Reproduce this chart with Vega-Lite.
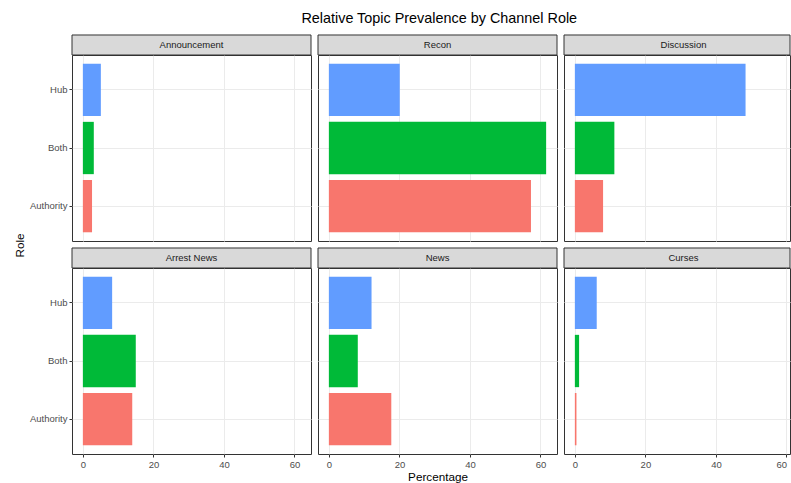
{
  "$schema": "https://vega.github.io/schema/vega-lite/v6.json",
  "background": "white",
  "padding": {"left": 13, "top": 10, "right": 0, "bottom": 0},
  "title": {"text": "Relative Topic Prevalence by Channel Role", "fontSize": 14.4, "fontWeight": "normal", "color": "#000000", "font": "Liberation Sans", "anchor": "middle", "dx": 37, "offset": 8},
  "datasets": {
    "d": [
      {"Topic": "Announcement", "Role": "Hub", "Percentage": 5.1},
      {"Topic": "Announcement", "Role": "Both", "Percentage": 3.1},
      {"Topic": "Announcement", "Role": "Authority", "Percentage": 2.6},
      {"Topic": "Recon", "Role": "Hub", "Percentage": 20.1},
      {"Topic": "Recon", "Role": "Both", "Percentage": 61.6},
      {"Topic": "Recon", "Role": "Authority", "Percentage": 57.3},
      {"Topic": "Discussion", "Role": "Hub", "Percentage": 48.4},
      {"Topic": "Discussion", "Role": "Both", "Percentage": 11.2},
      {"Topic": "Discussion", "Role": "Authority", "Percentage": 8.0},
      {"Topic": "Arrest News", "Role": "Hub", "Percentage": 8.3},
      {"Topic": "Arrest News", "Role": "Both", "Percentage": 15.0},
      {"Topic": "Arrest News", "Role": "Authority", "Percentage": 14.0},
      {"Topic": "News", "Role": "Hub", "Percentage": 12.1},
      {"Topic": "News", "Role": "Both", "Percentage": 8.2},
      {"Topic": "News", "Role": "Authority", "Percentage": 17.7},
      {"Topic": "Curses", "Role": "Hub", "Percentage": 6.2},
      {"Topic": "Curses", "Role": "Both", "Percentage": 1.2},
      {"Topic": "Curses", "Role": "Authority", "Percentage": 0.45}
    ]
  },
  "columns": 3,
  "spacing": {"row": 27, "column": 7},
  "bounds": "flush",
  "align": "each",
  "concat": [
    {
      "width": 239, "height": 186,
      "data": {"name": "d"},
      "transform": [{"filter": "datum.Topic === 'Announcement'"}],
      "layer": [
        {
          "mark": {"type": "bar", "orient": "horizontal"},
          "encoding": {
            "y": {"field": "Role", "type": "nominal", "sort": ["Hub", "Both", "Authority"], "scale": {"paddingInner": 0.1, "paddingOuter": 0.15},
              "axis": {"title": "Role", "titleX": -49, "titleY": 190, "titleAngle": -90, "titleAlign": "center", "titleBaseline": "alphabetic", "titleFontSize": 11.7, "titleFontWeight": "normal", "titleColor": "#000000", "titleFont": "Liberation Sans", "domain": false, "ticks": true, "tickSize": 3, "tickColor": "#333333", "labelPadding": 2, "grid": true, "bandPosition": 0.5}},
            "x": {"field": "Percentage", "type": "quantitative", "scale": {"domain": [-3.08, 64.68], "nice": false, "zero": true},
              "axis": {"title": null, "domain": false, "ticks": false, "labels": false, "grid": true, "values": [0, 10, 20, 30, 40, 50, 60], "gridColor": {"condition": {"test": "datum.value % 20 === 0", "value": "#EBEBEB"}, "value": "#F3F3F3"}}},
            "color": {"field": "Role", "type": "nominal", "scale": {"domain": ["Authority", "Both", "Hub"], "range": ["#F8766D", "#00BA38", "#619CFF"]}, "legend": null}
          }
        },
        {
          "transform": [{"aggregate": [{"op": "count", "as": "n"}], "groupby": ["Topic"]}],
          "mark": {"type": "rect", "fill": "#D9D9D9", "stroke": "#333333", "strokeWidth": 1},
          "encoding": {
            "x": {"datum": -3.08, "type": "quantitative"},
            "x2": {"datum": 64.68},
            "y": {"datum": 1, "type": "quantitative", "scale": {"domain": [0, 1], "nice": false, "zero": false}, "axis": null},
            "y2": {"datum": 1.10753}
          }
        },
        {
          "transform": [{"aggregate": [{"op": "count", "as": "n"}], "groupby": ["Topic"]}],
          "mark": {"type": "text", "fontSize": 9.5, "color": "#1A1A1A", "baseline": "middle", "align": "center", "font": "Liberation Sans"},
          "encoding": {
            "text": {"field": "Topic", "type": "nominal"},
            "x": {"datum": 30.8, "type": "quantitative"},
            "y": {"datum": 1.05376, "type": "quantitative", "scale": {"domain": [0, 1], "nice": false, "zero": false}, "axis": null}
          }
        }
      ],
      "resolve": {"scale": {"y": "independent"}}
    },
    {
      "width": 239, "height": 186,
      "data": {"name": "d"},
      "transform": [{"filter": "datum.Topic === 'Recon'"}],
      "layer": [
        {
          "mark": {"type": "bar", "orient": "horizontal"},
          "encoding": {
            "y": {"field": "Role", "type": "nominal", "sort": ["Hub", "Both", "Authority"], "scale": {"paddingInner": 0.1, "paddingOuter": 0.15},
              "axis": {"title": null, "domain": false, "ticks": false, "labels": false, "grid": true, "bandPosition": 0.5}},
            "x": {"field": "Percentage", "type": "quantitative", "scale": {"domain": [-3.08, 64.68], "nice": false, "zero": true},
              "axis": {"title": null, "domain": false, "ticks": false, "labels": false, "grid": true, "values": [0, 10, 20, 30, 40, 50, 60], "gridColor": {"condition": {"test": "datum.value % 20 === 0", "value": "#EBEBEB"}, "value": "#F3F3F3"}}},
            "color": {"field": "Role", "type": "nominal", "scale": {"domain": ["Authority", "Both", "Hub"], "range": ["#F8766D", "#00BA38", "#619CFF"]}, "legend": null}
          }
        },
        {
          "transform": [{"aggregate": [{"op": "count", "as": "n"}], "groupby": ["Topic"]}],
          "mark": {"type": "rect", "fill": "#D9D9D9", "stroke": "#333333", "strokeWidth": 1},
          "encoding": {
            "x": {"datum": -3.08, "type": "quantitative"},
            "x2": {"datum": 64.68},
            "y": {"datum": 1, "type": "quantitative", "scale": {"domain": [0, 1], "nice": false, "zero": false}, "axis": null},
            "y2": {"datum": 1.10753}
          }
        },
        {
          "transform": [{"aggregate": [{"op": "count", "as": "n"}], "groupby": ["Topic"]}],
          "mark": {"type": "text", "fontSize": 9.5, "color": "#1A1A1A", "baseline": "middle", "align": "center", "font": "Liberation Sans"},
          "encoding": {
            "text": {"field": "Topic", "type": "nominal"},
            "x": {"datum": 30.8, "type": "quantitative"},
            "y": {"datum": 1.05376, "type": "quantitative", "scale": {"domain": [0, 1], "nice": false, "zero": false}, "axis": null}
          }
        }
      ],
      "resolve": {"scale": {"y": "independent"}}
    },
    {
      "width": 226, "height": 186,
      "data": {"name": "d"},
      "transform": [{"filter": "datum.Topic === 'Discussion'"}],
      "layer": [
        {
          "mark": {"type": "bar", "orient": "horizontal"},
          "encoding": {
            "y": {"field": "Role", "type": "nominal", "sort": ["Hub", "Both", "Authority"], "scale": {"paddingInner": 0.1, "paddingOuter": 0.15},
              "axis": {"title": null, "domain": false, "ticks": false, "labels": false, "grid": true, "bandPosition": 0.5}},
            "x": {"field": "Percentage", "type": "quantitative", "scale": {"domain": [-3.08, 61.0], "nice": false, "zero": true},
              "axis": {"title": null, "domain": false, "ticks": false, "labels": false, "grid": true, "values": [0, 10, 20, 30, 40, 50, 60], "gridColor": {"condition": {"test": "datum.value % 20 === 0", "value": "#EBEBEB"}, "value": "#F3F3F3"}}},
            "color": {"field": "Role", "type": "nominal", "scale": {"domain": ["Authority", "Both", "Hub"], "range": ["#F8766D", "#00BA38", "#619CFF"]}, "legend": null}
          }
        },
        {
          "transform": [{"aggregate": [{"op": "count", "as": "n"}], "groupby": ["Topic"]}],
          "mark": {"type": "rect", "fill": "#D9D9D9", "stroke": "#333333", "strokeWidth": 1},
          "encoding": {
            "x": {"datum": -3.08, "type": "quantitative"},
            "x2": {"datum": 61.0},
            "y": {"datum": 1, "type": "quantitative", "scale": {"domain": [0, 1], "nice": false, "zero": false}, "axis": null},
            "y2": {"datum": 1.10753}
          }
        },
        {
          "transform": [{"aggregate": [{"op": "count", "as": "n"}], "groupby": ["Topic"]}],
          "mark": {"type": "text", "fontSize": 9.5, "color": "#1A1A1A", "baseline": "middle", "align": "center", "font": "Liberation Sans"},
          "encoding": {
            "text": {"field": "Topic", "type": "nominal"},
            "x": {"datum": 30.8, "type": "quantitative"},
            "y": {"datum": 1.05376, "type": "quantitative", "scale": {"domain": [0, 1], "nice": false, "zero": false}, "axis": null}
          }
        }
      ],
      "resolve": {"scale": {"y": "independent"}}
    },
    {
      "width": 239, "height": 186,
      "data": {"name": "d"},
      "transform": [{"filter": "datum.Topic === 'Arrest News'"}],
      "layer": [
        {
          "mark": {"type": "bar", "orient": "horizontal"},
          "encoding": {
            "y": {"field": "Role", "type": "nominal", "sort": ["Hub", "Both", "Authority"], "scale": {"paddingInner": 0.1, "paddingOuter": 0.15},
              "axis": {"title": null, "domain": false, "ticks": true, "tickSize": 3, "tickColor": "#333333", "labelPadding": 2, "grid": true, "bandPosition": 0.5}},
            "x": {"field": "Percentage", "type": "quantitative", "scale": {"domain": [-3.08, 64.68], "nice": false, "zero": true},
              "axis": {"title": null, "domain": false, "ticks": true, "tickSize": 3, "tickColor": "#333333", "tickOpacity": {"condition": {"test": "datum.value % 20 === 0", "value": 1}, "value": 0}, "labelExpr": "datum.value % 20 === 0 ? datum.label : ''", "labelOverlap": false, "labelFlush": false, "labelPadding": 2, "grid": true, "values": [0, 10, 20, 30, 40, 50, 60], "gridColor": {"condition": {"test": "datum.value % 20 === 0", "value": "#EBEBEB"}, "value": "#F3F3F3"}}},
            "color": {"field": "Role", "type": "nominal", "scale": {"domain": ["Authority", "Both", "Hub"], "range": ["#F8766D", "#00BA38", "#619CFF"]}, "legend": null}
          }
        },
        {
          "transform": [{"aggregate": [{"op": "count", "as": "n"}], "groupby": ["Topic"]}],
          "mark": {"type": "rect", "fill": "#D9D9D9", "stroke": "#333333", "strokeWidth": 1},
          "encoding": {
            "x": {"datum": -3.08, "type": "quantitative"},
            "x2": {"datum": 64.68},
            "y": {"datum": 1, "type": "quantitative", "scale": {"domain": [0, 1], "nice": false, "zero": false}, "axis": null},
            "y2": {"datum": 1.10753}
          }
        },
        {
          "transform": [{"aggregate": [{"op": "count", "as": "n"}], "groupby": ["Topic"]}],
          "mark": {"type": "text", "fontSize": 9.5, "color": "#1A1A1A", "baseline": "middle", "align": "center", "font": "Liberation Sans"},
          "encoding": {
            "text": {"field": "Topic", "type": "nominal"},
            "x": {"datum": 30.8, "type": "quantitative"},
            "y": {"datum": 1.05376, "type": "quantitative", "scale": {"domain": [0, 1], "nice": false, "zero": false}, "axis": null}
          }
        }
      ],
      "resolve": {"scale": {"y": "independent"}}
    },
    {
      "width": 239, "height": 186,
      "data": {"name": "d"},
      "transform": [{"filter": "datum.Topic === 'News'"}],
      "layer": [
        {
          "mark": {"type": "bar", "orient": "horizontal"},
          "encoding": {
            "y": {"field": "Role", "type": "nominal", "sort": ["Hub", "Both", "Authority"], "scale": {"paddingInner": 0.1, "paddingOuter": 0.15},
              "axis": {"title": null, "domain": false, "ticks": false, "labels": false, "grid": true, "bandPosition": 0.5}},
            "x": {"field": "Percentage", "type": "quantitative", "scale": {"domain": [-3.08, 64.68], "nice": false, "zero": true},
              "axis": {"title": "Percentage", "titleY": 26, "titleBaseline": "alphabetic", "titleFontSize": 11.7, "titleFontWeight": "normal", "titleColor": "#000000", "titleFont": "Liberation Sans", "domain": false, "ticks": true, "tickSize": 3, "tickColor": "#333333", "tickOpacity": {"condition": {"test": "datum.value % 20 === 0", "value": 1}, "value": 0}, "labelExpr": "datum.value % 20 === 0 ? datum.label : ''", "labelOverlap": false, "labelFlush": false, "labelPadding": 2, "grid": true, "values": [0, 10, 20, 30, 40, 50, 60], "gridColor": {"condition": {"test": "datum.value % 20 === 0", "value": "#EBEBEB"}, "value": "#F3F3F3"}}},
            "color": {"field": "Role", "type": "nominal", "scale": {"domain": ["Authority", "Both", "Hub"], "range": ["#F8766D", "#00BA38", "#619CFF"]}, "legend": null}
          }
        },
        {
          "transform": [{"aggregate": [{"op": "count", "as": "n"}], "groupby": ["Topic"]}],
          "mark": {"type": "rect", "fill": "#D9D9D9", "stroke": "#333333", "strokeWidth": 1},
          "encoding": {
            "x": {"datum": -3.08, "type": "quantitative"},
            "x2": {"datum": 64.68},
            "y": {"datum": 1, "type": "quantitative", "scale": {"domain": [0, 1], "nice": false, "zero": false}, "axis": null},
            "y2": {"datum": 1.10753}
          }
        },
        {
          "transform": [{"aggregate": [{"op": "count", "as": "n"}], "groupby": ["Topic"]}],
          "mark": {"type": "text", "fontSize": 9.5, "color": "#1A1A1A", "baseline": "middle", "align": "center", "font": "Liberation Sans"},
          "encoding": {
            "text": {"field": "Topic", "type": "nominal"},
            "x": {"datum": 30.8, "type": "quantitative"},
            "y": {"datum": 1.05376, "type": "quantitative", "scale": {"domain": [0, 1], "nice": false, "zero": false}, "axis": null}
          }
        }
      ],
      "resolve": {"scale": {"y": "independent"}}
    },
    {
      "width": 226, "height": 186,
      "data": {"name": "d"},
      "transform": [{"filter": "datum.Topic === 'Curses'"}],
      "layer": [
        {
          "mark": {"type": "bar", "orient": "horizontal"},
          "encoding": {
            "y": {"field": "Role", "type": "nominal", "sort": ["Hub", "Both", "Authority"], "scale": {"paddingInner": 0.1, "paddingOuter": 0.15},
              "axis": {"title": null, "domain": false, "ticks": false, "labels": false, "grid": true, "bandPosition": 0.5}},
            "x": {"field": "Percentage", "type": "quantitative", "scale": {"domain": [-3.08, 61.0], "nice": false, "zero": true},
              "axis": {"title": null, "domain": false, "ticks": true, "tickSize": 3, "tickColor": "#333333", "tickOpacity": {"condition": {"test": "datum.value % 20 === 0", "value": 1}, "value": 0}, "labelExpr": "datum.value % 20 === 0 ? datum.label : ''", "labelOverlap": false, "labelFlush": 5, "labelPadding": 2, "grid": true, "values": [0, 10, 20, 30, 40, 50, 60], "gridColor": {"condition": {"test": "datum.value % 20 === 0", "value": "#EBEBEB"}, "value": "#F3F3F3"}}},
            "color": {"field": "Role", "type": "nominal", "scale": {"domain": ["Authority", "Both", "Hub"], "range": ["#F8766D", "#00BA38", "#619CFF"]}, "legend": null}
          }
        },
        {
          "transform": [{"aggregate": [{"op": "count", "as": "n"}], "groupby": ["Topic"]}],
          "mark": {"type": "rect", "fill": "#D9D9D9", "stroke": "#333333", "strokeWidth": 1},
          "encoding": {
            "x": {"datum": -3.08, "type": "quantitative"},
            "x2": {"datum": 61.0},
            "y": {"datum": 1, "type": "quantitative", "scale": {"domain": [0, 1], "nice": false, "zero": false}, "axis": null},
            "y2": {"datum": 1.10753}
          }
        },
        {
          "transform": [{"aggregate": [{"op": "count", "as": "n"}], "groupby": ["Topic"]}],
          "mark": {"type": "text", "fontSize": 9.5, "color": "#1A1A1A", "baseline": "middle", "align": "center", "font": "Liberation Sans"},
          "encoding": {
            "text": {"field": "Topic", "type": "nominal"},
            "x": {"datum": 30.8, "type": "quantitative"},
            "y": {"datum": 1.05376, "type": "quantitative", "scale": {"domain": [0, 1], "nice": false, "zero": false}, "axis": null}
          }
        }
      ],
      "resolve": {"scale": {"y": "independent"}}
    }
  ],
  "config": {
    "font": "Liberation Sans",
    "view": {"stroke": "#333333", "strokeWidth": 1},
    "axis": {"labelFont": "Liberation Sans", "labelFontSize": 9.5, "labelColor": "#4D4D4D", "gridColor": "#EBEBEB", "gridWidth": 1, "domain": false}
  }
}
